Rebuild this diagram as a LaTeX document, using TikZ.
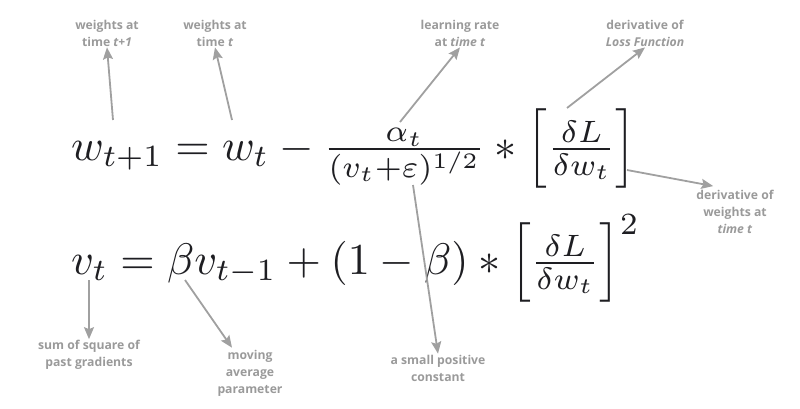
\documentclass[tikz,border=0pt]{standalone}
\usepackage{graphicx}
\usepackage{fontspec}
\usetikzlibrary{arrows.meta,calc}
\newfontfamily\labfont{Open Sans}
\definecolor{lblc}{HTML}{9A9A9A}
\definecolor{arrc}{HTML}{A0A0A0}
\definecolor{eqc}{HTML}{1E1E22}
\tikzset{
  lbl/.style={font=\labfont\bfseries\fontsize{12.2}{17}\selectfont, text=lblc, align=center, inner sep=1pt},
  eqn/.style={text=eqc, inner sep=0pt, anchor=base west},
  arr/.style={draw=arrc, line width=1.8pt, -{Stealth[length=12pt,width=10pt,inset=2pt]}}
}
\begin{document}
\begin{tikzpicture}[x=1pt,y=-1pt]
\useasboundingbox (0,0) rectangle (800,408);
\node[eqn] (eq1) at (71,160) {\scalebox{4.42}{$w_{t+1} = w_t - \frac{\alpha_t}{(v_t+\varepsilon)^{1/2}} * \left[\frac{\delta L}{\delta w_t}\right]$}};
\node[eqn] (eq2) at (71,274) {\scalebox{4.42}{$v_t = \beta v_{t-1} + (1-\beta) * \left[\frac{\delta L}{\delta w_t}\right]^2$}};

\node[lbl] (lab1) at (107,33) {weights at\\time \textit{t+1}};
\node[lbl] (lab2) at (215,33) {weights at\\time \textit{t}};
\node[lbl] (lab3) at (460,33) {learning rate\\at \textit{time t}};
\node[lbl] (lab4) at (645,33) {derivative of\\\textit{Loss Function}};
\node[lbl] (lab5) at (735,212) {derivative of\\weights at\\\textit{time t}};
\node[lbl] (lab6) at (89,355) {sum of square of\\past gradients};
\node[lbl] (lab7) at (250,373) {moving\\average\\parameter};
\node[lbl] (lab8) at (438,368) {a small positive\\constant};

\coordinate (t1) at (113,120);
\coordinate (t2) at (232,120);
\coordinate (t3) at (400,122);
\coordinate (t4) at (567,108);
\coordinate (t5) at (627,170);
\coordinate (t6) at (89,280);
\coordinate (t7) at (185,280);
\coordinate (t8) at (413,185);

\draw[arr] (t1) -- (lab1.south);
\draw[arr] (t2) -- (lab2.south);
\draw[arr] (t3) -- (lab3.south);
\draw[arr] (t4) -- (lab4.south);
\draw[arr] (t5) -- ($(lab5.north west)+(18,-3)$);
\draw[arr] (t6) -- (lab6.north);
\draw[arr] (t7) -- ($(lab7.north)+(-18,-1)$);
\draw[arr] (t8) -- (lab8.north);
\end{tikzpicture}
\end{document}
